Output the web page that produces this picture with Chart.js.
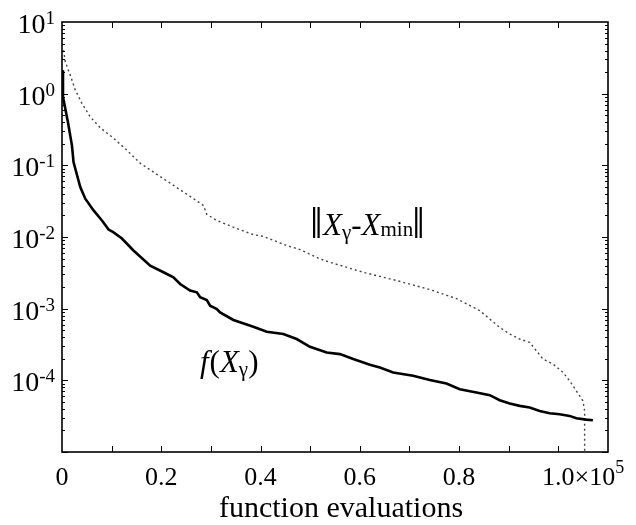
<!DOCTYPE html>
<html>
<head>
<meta charset="utf-8">
<script src="https://cdn.jsdelivr.net/npm/chart.js@4/dist/chart.umd.min.js"></script>
<style>
  html, body { margin: 0; padding: 0; background: #fff; }
  #wrap { width: 636px; height: 525px; }
</style>
</head>
<body>
<div id="wrap"><canvas id="evalChart"></canvas></div>
<script>
// f(X_gamma) against function evaluations
const fEvals = [0, 200, 1200, 2000, 2330, 3680, 4690, 6360, 8050, 9380, 10320, 12070, 14400,
    17770, 20440, 22450, 23800, 25810, 27160, 27830, 29170, 29840, 31190, 31850, 34530,
    38550, 41250, 44590, 47280, 49960, 53320, 56000, 58670, 62030, 64040, 66720, 70740,
    74100, 77460, 80140, 83500, 86180, 88190, 90200, 92210, 94220, 96240, 98250, 100260,
    102270, 103620, 105630, 106960];
const fValues = [2.13, 0.90, 0.40, 0.19, 0.11, 0.0498, 0.0342, 0.0235, 0.0170, 0.0127, 0.0117,
    0.00953, 0.00648, 0.00399, 0.00322, 0.00274, 0.00221, 0.00179, 0.00169, 0.00144, 0.00132,
    0.00110, 0.00099, 0.000888, 0.000695, 0.000560, 0.000477, 0.000443, 0.000377, 0.000294,
    0.000245, 0.000232, 0.000198, 0.000165, 0.000151, 0.000129, 0.000116, 0.000101,
    0.0000902, 0.0000753, 0.0000675, 0.0000621, 0.0000528, 0.0000474, 0.0000440, 0.0000417,
    0.0000374, 0.0000347, 0.0000337, 0.0000319, 0.0000296, 0.0000283, 0.0000277];

// ||X_gamma - X_min|| against function evaluations
const distEvals = [320, 660, 1670, 2680, 4020, 5690, 7710, 10060, 12740, 15760, 19120,
    22460, 25820, 28490, 29180, 31190, 34530, 38550, 40560, 45270, 47950, 51970, 53980,
    60680, 67400, 74100, 79480, 84170, 88190, 90200, 92210, 94220, 95570, 96900, 98910,
    100930, 102270, 103620, 104950, 105290, 105300];
const distValues = [4.06, 2.79, 1.81, 1.12, 0.730, 0.474, 0.334, 0.249, 0.171, 0.107,
    0.0748, 0.0525, 0.0368, 0.0276, 0.0207, 0.0170, 0.0137, 0.0108, 0.0102, 0.0076,
    0.00668, 0.00495, 0.00444, 0.00322, 0.00247, 0.00185, 0.00138, 0.000938, 0.000547,
    0.000443, 0.000377, 0.000338, 0.000259, 0.000198, 0.000169, 0.000129, 0.0000984,
    0.0000713, 0.0000517, 0.0000374, 0.000001];

const xTickValues = [0, 20000, 40000, 60000, 80000, 100000];
const xTickLabels = ['0', '0.2', '0.4', '0.6', '0.8', '1.0'];
const yExponents = [1, 0, -1, -2, -3, -4];

const serif = '"Liberation Serif", "Times New Roman", serif';

function toPoints(xs, ys) {
    return xs.map((x, i) => ({ x: x, y: ys[i] }));
}

// frame, inward ticks, tick labels and curve labels, drawn on top
const decorations = {
    id: 'decorations',
    afterDraw(chart) {
        const { ctx, chartArea: a, scales: { x, y } } = chart;
        ctx.save();
        ctx.strokeStyle = '#000';
        ctx.fillStyle = '#000';

        // inward ticks on top and bottom, one every 1e4
        ctx.lineWidth = 1;
        ctx.beginPath();
        for (let v = 10000; v < 110000; v += 10000) {
            const px = Math.round(x.getPixelForValue(v)) + 0.5;
            ctx.moveTo(px, a.bottom); ctx.lineTo(px, a.bottom - 6);
            ctx.moveTo(px, a.top); ctx.lineTo(px, a.top + 6);
        }
        // log ticks on left and right
        for (let d = -5; d <= 0; d++) {
            for (let m = 1; m <= 9; m++) {
                const py = Math.round(y.getPixelForValue(m * Math.pow(10, d))) + 0.5;
                const len = m === 1 ? 6 : 3;
                ctx.moveTo(a.left, py); ctx.lineTo(a.left + len, py);
                ctx.moveTo(a.right, py); ctx.lineTo(a.right - len, py);
            }
        }
        ctx.stroke();

        ctx.lineWidth = 1.6;
        ctx.strokeRect(a.left, a.top, a.right - a.left, a.bottom - a.top);

        // y tick labels: 10 with a raised exponent
        ctx.textBaseline = 'alphabetic';
        yExponents.forEach(e => {
            const py = y.getPixelForValue(Math.pow(10, e));
            const exp = String(e);
            ctx.font = '19px ' + serif;
            const ew = ctx.measureText(exp).width;
            ctx.textAlign = 'right';
            ctx.fillText(exp, 55, py + 2);
            ctx.font = '28px ' + serif;
            ctx.fillText('10', 55 - ew, py + 11);
        });

        // x tick labels
        ctx.font = '26px ' + serif;
        xTickValues.forEach((v, i) => {
            const px = x.getPixelForValue(v);
            ctx.textAlign = 'center';
            ctx.fillText(xTickLabels[i], px, 485);
            if (i === xTickValues.length - 1) {
                const w = ctx.measureText(xTickLabels[i]).width;
                ctx.textAlign = 'left';
                ctx.fillText('\u00d710', px + w / 2, 485);
                const w2 = ctx.measureText('\u00d710').width;
                ctx.font = '18px ' + serif;
                ctx.fillText('5', px + w / 2 + w2, 473);
                ctx.font = '26px ' + serif;
            }
        });

        // axis title
        ctx.font = '30px ' + serif;
        ctx.textAlign = 'center';
        ctx.fillText('function evaluations', 341, 517);

        // curve labels
        ctx.textAlign = 'left';
        let cx = 313;
        const base = 235;
        ctx.fillRect(cx, 207, 2.2, 31);
        ctx.fillRect(cx + 4.5, 207, 2.2, 31);
        cx += 10;
        ctx.font = 'italic 31px ' + serif;
        ctx.fillText('X', cx, base); cx += ctx.measureText('X').width;
        ctx.font = '21px ' + serif;
        ctx.fillText('\u03b3', cx, base + 4); cx += ctx.measureText('\u03b3').width;
        ctx.font = '31px ' + serif;
        ctx.fillText('-', cx, base); cx += ctx.measureText('-').width;
        ctx.font = 'italic 31px ' + serif;
        ctx.fillText('X', cx, base); cx += ctx.measureText('X').width;
        ctx.font = '21px ' + serif;
        ctx.fillText('min', cx, base + 1); cx += ctx.measureText('min').width + 2;
        ctx.fillRect(cx, 207, 2.2, 31);
        ctx.fillRect(cx + 4.5, 207, 2.2, 31);

        cx = 200;
        const fb = 372;
        ctx.font = 'italic 31px ' + serif;
        ctx.fillText('f', cx, fb); cx += ctx.measureText('f').width + 1;
        ctx.font = '31px ' + serif;
        ctx.fillText('(', cx, fb); cx += ctx.measureText('(').width;
        ctx.font = 'italic 31px ' + serif;
        ctx.fillText('X', cx, fb); cx += ctx.measureText('X').width;
        ctx.font = '21px ' + serif;
        ctx.fillText('\u03b3', cx, fb + 4); cx += ctx.measureText('\u03b3').width;
        ctx.font = '31px ' + serif;
        ctx.fillText(')', cx, fb);

        ctx.restore();
    }
};

document.addEventListener('DOMContentLoaded', function() {
    const ctx = document.getElementById('evalChart').getContext('2d');
    new Chart(ctx, {
        type: 'line',
        data: {
            datasets: [{
                label: 'f(X\u03b3)',
                data: toPoints(fEvals, fValues),
                borderColor: '#000',
                borderWidth: 2.6,
                pointRadius: 0,
                tension: 0
            }, {
                label: '||X\u03b3-Xmin||',
                data: toPoints(distEvals, distValues),
                borderColor: '#444',
                borderWidth: 1.4,
                borderDash: [2, 3],
                pointRadius: 0,
                tension: 0
            }]
        },
        options: {
            responsive: true,
            maintainAspectRatio: false,
            animation: false,
            devicePixelRatio: 1,
            layout: { padding: { left: 62, right: 28, top: 22, bottom: 73 } },
            scales: {
                x: { type: 'linear', min: 0, max: 110000, display: false },
                y: { type: 'logarithmic', min: 1e-5, max: 10, display: false }
            },
            plugins: {
                legend: { display: false },
                tooltip: { enabled: false }
            }
        },
        plugins: [decorations]
    });
});
</script>
</body>
</html>
